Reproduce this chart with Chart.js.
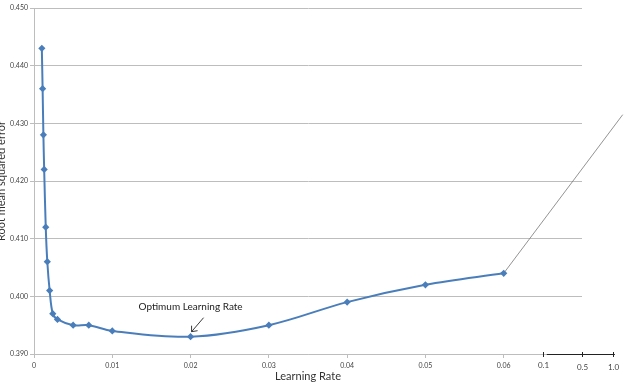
<!DOCTYPE html>
<html>
<head>
<meta charset="utf-8">
<script src="https://cdn.jsdelivr.net/npm/chart.js@4"></script>
<style>
  html, body { margin: 0; padding: 0; background: white; }
  #wrap { width: 630px; height: 392px; position: relative; }
</style>
</head>
<body>
<div id="wrap"><canvas id="myChart"></canvas></div>
<script>
// values
var learningRates = [0.001, 0.0011, 0.0012, 0.0013, 0.0015, 0.0017, 0.002, 0.0024, 0.003, 0.005, 0.007, 0.01, 0.02, 0.03, 0.04, 0.05, 0.06];
var rmseValues = [0.443, 0.436, 0.428, 0.422, 0.412, 0.406, 0.401, 0.397, 0.396, 0.395, 0.395, 0.394, 0.393, 0.395, 0.399, 0.402, 0.404];

// the thin line going off to the right edge
var tailRates = [0.06, 0.0752];
var tailValues = [0.404, 0.4315];

var xTickValues = [0, 0.01, 0.02, 0.03, 0.04, 0.05, 0.06];
var xTickLabels = ['0', '0.01', '0.02', '0.03', '0.04', '0.05', '0.06'];
var extraTickValues = [0.065, 0.07, 0.0739];
var extraTickLabels = ['0.1', '0.5', '1.0'];

var optimumRate = 0.02;
var optimumValue = 0.393;
var annotationText = 'Optimum Learning Rate';
var yTitle = 'Root mean squared error';

var toPoints = (xs, ys) => {
    let data = [];
    for (let i = 0; i < xs.length; i++) {
        data.push({ x: xs[i], y: ys[i] });
    }
    return data;
}

var extrasPlugin = {
    id: 'extras',
    afterDraw: (chart) => {
        const ctx = chart.ctx;
        const xs = chart.scales.x;
        const ys = chart.scales.y;
        const bottom = ys.getPixelForValue(0.39);

        ctx.save();
        // extended axis piece on the right
        ctx.strokeStyle = '#222';
        ctx.lineWidth = 1;
        ctx.beginPath();
        ctx.moveTo(xs.getPixelForValue(0.0655), bottom + 0.5);
        ctx.lineTo(xs.getPixelForValue(0.0742), bottom + 0.5);
        ctx.stroke();
        ctx.fillStyle = '#444';
        ctx.font = '8px Lato';
        ctx.textAlign = 'center';
        ctx.textBaseline = 'middle';
        for (let i = 0; i < extraTickValues.length; i++) {
            const px = Math.round(xs.getPixelForValue(extraTickValues[i])) + 0.5;
            ctx.beginPath();
            ctx.moveTo(px, bottom - 2);
            ctx.lineTo(px, bottom + 3);
            ctx.stroke();
            ctx.fillText(extraTickLabels[i], px, bottom + 12 + (i == 0 ? -1 : 1));
        }

        // annotation
        const ox = xs.getPixelForValue(optimumRate);
        const oy = ys.getPixelForValue(optimumValue);
        ctx.fillStyle = '#222';
        ctx.font = '10px Lato';
        ctx.fillText(annotationText, ox, oy - 30);
        ctx.strokeStyle = '#222';
        ctx.lineWidth = 0.9;
        ctx.beginPath();
        ctx.moveTo(ox + 13, oy - 19);
        ctx.lineTo(ox + 1, oy - 5);
        ctx.moveTo(ox + 1, oy - 5);
        ctx.lineTo(ox + 1, oy - 11);
        ctx.moveTo(ox + 1, oy - 5);
        ctx.lineTo(ox + 7, oy - 6);
        ctx.stroke();

        // y axis title, cut off at the left edge
        ctx.translate(5, (chart.chartArea.top + chart.chartArea.bottom) / 2);
        ctx.rotate(-Math.PI / 2);
        ctx.fillStyle = '#333';
        ctx.font = '11px Lato';
        ctx.textBaseline = 'alphabetic';
        ctx.fillText(yTitle, 0, 0);
        ctx.restore();
    }
}

window.onload = () => {
    const ctx = document.getElementById('myChart').getContext('2d');
    new Chart(ctx, {
        type: 'scatter',
        data: {
            datasets: [{
                data: toPoints(learningRates, rmseValues),
                showLine: true,
                borderColor: '#4a7ebb',
                backgroundColor: '#4a7ebb',
                borderWidth: 2,
                pointStyle: 'rectRot',
                pointRadius: 2.2,
                tension: 0.35
            },
            {
                data: toPoints(tailRates, tailValues),
                showLine: true,
                borderColor: '#777',
                borderWidth: 0.8,
                pointRadius: 0,
                clip: false
            }]
        },
        options: {
            animation: false,
            responsive: true,
            maintainAspectRatio: false,
            layout: { padding: { top: 8, right: 48, left: 0, bottom: 0 } },
            plugins: {
                legend: { display: false },
                tooltip: { enabled: false }
            },
            scales: {
                x: {
                    type: 'linear',
                    min: 0,
                    max: 0.07,
                    afterBuildTicks: (scale) => {
                        scale.ticks = xTickValues.map(v => ({ value: v }));
                    },
                    afterFit: (scale) => { scale.height = 38; },
                    ticks: {
                        autoSkip: false,
                        maxRotation: 0,
                        color: '#444',
                        font: { family: 'Lato', size: 7 },
                        padding: 4,
                        callback: (value) => {
                            const i = xTickValues.indexOf(value);
                            return i >= 0 ? xTickLabels[i] : '';
                        }
                    },
                    grid: {
                        drawOnChartArea: false,
                        tickLength: 4,
                        color: '#bdbdbd'
                    },
                    border: { color: '#bdbdbd' },
                    title: {
                        display: true,
                        text: 'Learning Rate',
                        color: '#333',
                        font: { family: 'Lato', size: 11 },
                        padding: { top: 0, bottom: 9 }
                    }
                },
                y: {
                    min: 0.39,
                    max: 0.45,
                    afterFit: (scale) => { scale.width = 34; },
                    ticks: {
                        stepSize: 0.01,
                        color: '#444',
                        font: { family: 'Lato', size: 7 },
                        padding: 2,
                        callback: (value) => value.toFixed(3)
                    },
                    grid: {
                        color: '#bdbdbd',
                        tickLength: 4
                    },
                    border: { color: '#bdbdbd' }
                }
            }
        },
        plugins: [extrasPlugin]
    });
}
</script>
</body>
</html>
